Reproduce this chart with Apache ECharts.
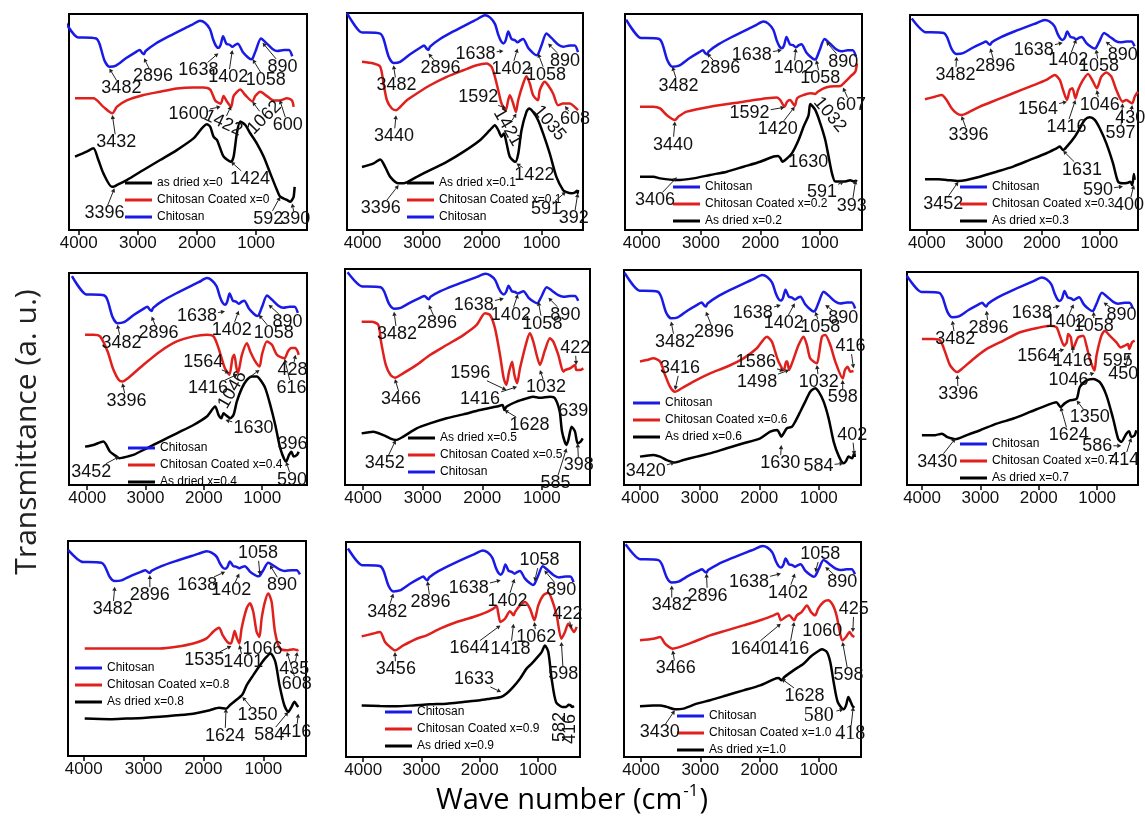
<!DOCTYPE html>
<html>
<head>
<meta charset="utf-8">
<title>FTIR spectra</title>
<script src="https://cdn.jsdelivr.net/npm/echarts@6/dist/echarts.min.js"></script>
<style>
  html, body { margin: 0; padding: 0; background: #fff; }
  #chart { width: 1145px; height: 816px; }
</style>
</head>
<body>
<div id="chart"></div>
<script>
// wave number ticks shown under every panel
const tickValues = [1000, 2000, 3000, 4000];

// chitosan reference spectrum, same in every panel: [wave number, transmittance]
const chitosan = [[4262,100],[4011,91],[3928,91],[3705,90.5],[3649,88],[3565,80],[3482,77],[3370,77.5],[3203,81],[3036,84],[2969,85],[2924,83.5],[2896,83],[2869,84.5],[2702,88],[2479,91.5],[2200,95.5],[2089,97],[1949,99],[1866,98],[1782,95],[1726,90],[1680,87],[1638,86],[1600,87.5],[1559,91.5],[1503,88],[1448,87.5],[1402,86.5],[1350,87.5],[1308,88],[1225,84],[1141,81.5],[1086,80.5],[1058,81],[1002,85],[918,90.5],[834,88.5],[723,85.5],[639,84.5],[528,85],[444,85],[389,82]];

// chitosan coated / as dried spectra, one pair per x
const coated00 = [[4063,61],[3753,61],[3583,57],[3432,54],[3357,57],[3188,60],[2906,62.5],[2623,64],[2341,65.5],[2059,66],[1889,66],[1776,65],[1692,60],[1600,58.5],[1550,62],[1494,59.5],[1422,57],[1381,62],[1268,65],[1183,62.5],[1062,59.5],[1014,62],[929,64],[816,62],[703,60],[600,60],[478,61],[393,60],[365,57]];
const dried00 = [[4063,34],[3866,36.3],[3753,37.8],[3668,32.4],[3583,26.2],[3440,20],[3396,20.2],[3357,20.8],[3188,23.1],[2906,27.8],[2623,32.4],[2341,37],[2059,42.4],[1833,49],[1776,47.8],[1720,43.2],[1663,41.7],[1618,38.6],[1550,34],[1424,31.6],[1380,34],[1325,44.8],[1268,50.2],[1183,48.6],[1099,44.8],[986,40],[873,34],[760,26.2],[647,18.5],[592,15.4],[478,13.9],[421,13.1],[390,14],[365,15.4],[348,20]];

const coated01 = [[4011,77.5],[3816,76.7],[3705,75.2],[3649,67.5],[3593,59.8],[3510,56],[3440,55.2],[3370,56.7],[3259,59.8],[3092,62.9],[2869,66.7],[2590,70.6],[2312,73.6],[2089,75.9],[1921,76.7],[1838,75.2],[1782,70.6],[1726,64.4],[1671,58.3],[1600,55.2],[1560,59.8],[1531,62.1],[1476,58.3],[1430,54.4],[1392,59.8],[1308,67.5],[1253,70.9],[1197,67.5],[1141,62.1],[1060,59.8],[1030,64.4],[946,68.3],[890,66.7],[807,62.9],[723,57.5],[639,58.3],[528,58.3],[444,56.7],[389,55.2]];
const dried01 = [[4011,29],[3816,30.7],[3705,32.5],[3621,29],[3537,24.5],[3396,21.5],[3315,21.5],[3092,24.5],[2869,27.6],[2590,31.4],[2312,36],[2033,41.4],[1866,46],[1782,48.3],[1726,46],[1671,43],[1632,44.5],[1587,40],[1531,33.7],[1440,31.4],[1390,35.3],[1336,46],[1253,54.4],[1208,56],[1141,54.4],[1058,50.6],[974,44.5],[863,35.3],[751,24.5],[639,18.4],[591,17.6],[500,16.9],[444,17.2],[405,18.1],[392,17],[389,18.4]];

const coated02 = [[4028,57.1],[3803,57.1],[3690,56.3],[3578,53.2],[3440,50.9],[3380,52.5],[3240,54.8],[2847,57.1],[2284,59.4],[1890,61],[1722,61.4],[1665,60.2],[1592,57.1],[1550,59.4],[1500,60.2],[1420,57.4],[1380,61],[1272,62.5],[1159,63.3],[1075,63],[1032,64],[934,65.6],[822,66.4],[650,66.7],[597,67.9],[484,71],[400,73.3],[372,77.2]];
const dried02 = [[4028,24.7],[3803,24.7],[3690,23.9],[3406,23.1],[3128,23.9],[2847,25.5],[2565,27],[2284,29.3],[2003,31.6],[1778,34],[1700,34.3],[1660,33.2],[1630,31.6],[1581,32.4],[1469,35.5],[1356,41.7],[1272,47.8],[1187,53.2],[1159,58.3],[1075,55.6],[990,49.4],[906,41.7],[850,34],[793,26.2],[737,22.4],[653,22.4],[591,22.4],[484,23],[428,22.4],[393,22.8],[372,22.4]];

const coated03 = [[4032,60.8],[3858,62],[3742,62.8],[3656,60.5],[3569,56.6],[3482,54.3],[3396,53.5],[3309,54.3],[3077,57.4],[2788,60.5],[2499,63.6],[2209,66.7],[1920,69.8],[1776,72.1],[1689,69.8],[1631,65.1],[1564,60.5],[1515,65.1],[1469,65.9],[1416,61.2],[1371,65.1],[1284,69.8],[1197,72.6],[1110,69],[1046,65.9],[966,71.3],[879,73.2],[792,71.3],[705,65.1],[597,59.7],[532,60.5],[430,58.9],[387,62],[329,64.3]];
const dried03 = [[4032,23.6],[3800,23.6],[3656,23.3],[3452,22.8],[3309,23.3],[3077,24.8],[2788,27.1],[2499,29.5],[2209,32.6],[1920,35.7],[1746,38],[1689,38.8],[1631,37.2],[1544,39.5],[1428,43.4],[1341,47.3],[1255,51.2],[1168,52.4],[1081,51.2],[994,47.3],[879,40.3],[763,31],[676,22.5],[590,21.7],[503,22],[463,22.5],[430,20.9],[400,26],[387,23.3]];

const coated04 = [[4037,70.9],[3894,70.9],[3780,70.1],[3650,63],[3560,55.1],[3460,49.6],[3396,48.8],[3300,50.4],[3036,56.7],[2750,63],[2464,67.7],[2178,70.1],[1949,70.9],[1834,70.1],[1749,64.6],[1640,55.1],[1564,52],[1510,59.8],[1480,61.4],[1440,55.1],[1416,52.8],[1348,61.4],[1262,66.9],[1205,63],[1119,58.3],[1046,55.9],[1005,61.4],[919,67.7],[833,66.1],[747,61.4],[616,59.8],[560,63],[500,64.6],[433,64.6],[393,63],[375,61.4]];
const dried04 = [[4037,18.1],[3894,18.9],[3723,20.5],[3608,15.7],[3494,13.4],[3452,12.6],[3300,13.5],[3208,14.2],[2979,17.3],[2750,20.5],[2464,24.4],[2178,28.3],[1949,32.3],[1806,37],[1749,33.1],[1700,31.5],[1663,33.9],[1630,33.1],[1548,31.5],[1491,33.1],[1434,39.4],[1348,45.7],[1262,49.6],[1176,51.2],[1090,51.2],[1033,49.6],[948,45.7],[862,37.8],[776,28.3],[690,17.3],[590,11],[540,14.2],[500,15.7],[461,13.4],[404,14.2],[375,15.7]];

const coated05 = [[4025,75.6],[3857,75.6],[3745,74.1],[3700,66.4],[3620,55.6],[3540,50.9],[3466,49.7],[3330,51.7],[3102,55.6],[2878,60.2],[2598,64.8],[2318,69.4],[2094,74.1],[1954,79.5],[1870,78.7],[1786,72.5],[1702,60.2],[1640,49.4],[1596,46.3],[1550,52.5],[1500,57.1],[1460,50.9],[1416,47.1],[1367,54],[1255,66.4],[1199,70.2],[1143,66.4],[1087,60.2],[1032,55.6],[947,62.5],[863,67.9],[807,66.4],[723,60.2],[639,52.5],[611,53.2],[527,54],[443,55.6],[422,53.2],[359,53.2],[303,54]];
const dried05 = [[4025,23.9],[3829,24.7],[3661,23.1],[3549,21.6],[3452,20.8],[3326,22.4],[3102,26.2],[2878,28.5],[2598,30.9],[2318,32.7],[2038,34.7],[1758,36.3],[1660,37],[1628,34.7],[1590,36.3],[1423,38.6],[1255,40.1],[1143,40.9],[1031,40.4],[863,40.9],[779,40.1],[700,34],[660,24.7],[585,18.5],[555,20.8],[499,27],[443,24.7],[398,19.3],[348,20.1],[314,21.6]];

const coated06 = [[4004,57.4],[3892,58.1],[3779,58.9],[3667,57.4],[3583,51.2],[3499,45.7],[3416,43.4],[3302,45],[3106,48.1],[2826,51.9],[2545,55],[2265,58.9],[2040,63.6],[1872,69],[1788,66.7],[1732,62],[1676,57.4],[1586,53.5],[1547,57.4],[1530,57.4],[1498,53.5],[1440,57.4],[1339,65.1],[1255,69],[1199,65.1],[1143,58.9],[1032,56.6],[990,62],[946,69],[890,69.8],[806,65.1],[722,57.4],[598,49.6],[560,53.5],[515,55],[470,52.7],[416,53]];
const dried06 = [[4004,13.2],[3779,14],[3667,13.2],[3555,11.6],[3420,10.5],[3274,11.6],[3050,13.2],[2826,14.7],[2545,17.1],[2265,19.4],[1984,21.7],[1816,24.8],[1700,25.6],[1660,24],[1630,22.5],[1590,24],[1535,26.4],[1451,27.1],[1395,29.5],[1311,34.1],[1227,38.8],[1143,43.4],[1060,45],[1002,43.4],[918,38.8],[834,31],[750,20.2],[660,13.2],[584,10.1],[540,11.2],[500,13.2],[440,12.4],[402,15],[395,13]];

const coated07 = [[4002,68.5],[3802,68.5],[3688,67.8],[3603,62.3],[3518,56.1],[3396,53],[3318,54.5],[3119,59.2],[2891,63.9],[2606,67.8],[2321,71.7],[1980,74],[1809,74.8],[1695,74],[1638,70.1],[1564,65.4],[1520,67],[1495,70.9],[1450,69.3],[1416,63.9],[1325,69.3],[1239,70.1],[1182,65.4],[1125,59.2],[1046,53.7],[1011,60.7],[926,70.1],[869,72.4],[784,70.1],[669,67],[595,64.6],[527,65.4],[470,66.2],[450,63.9],[400,67],[356,67.8]];
const dried07 = [[4002,23.4],[3774,23.4],[3660,24.1],[3575,22.6],[3489,21.8],[3430,21.5],[3233,23.4],[3005,25.7],[2720,28.8],[2435,31.2],[2150,34.3],[1866,37.4],[1700,38.9],[1624,36.6],[1560,38.2],[1467,39.7],[1350,40.5],[1296,46],[1182,49.1],[1068,49.8],[954,48.3],[840,42.1],[726,31.2],[641,21.8],[586,20.2],[498,24.1],[452,25.2],[414,22.6],[356,23.4],[328,25.7]];

const coated08 = [[3984,50],[2730,50],[2451,50.8],[2172,52.3],[1949,54.7],[1838,57.8],[1740,59.6],[1680,56.2],[1600,53],[1545,52.3],[1510,55],[1480,58.1],[1440,54.7],[1401,52.3],[1364,59.3],[1280,68.6],[1225,71],[1169,67.1],[1113,57.8],[1066,55.4],[1029,64],[974,71.7],[918,75.6],[862,71.7],[806,57.8],[723,50],[608,49.2],[500,49.7],[435,49.2],[416,49.5]];
const dried08 = [[3984,17.4],[3566,17.1],[3287,17.4],[3009,17.7],[2730,18.2],[2451,18.9],[2172,19.7],[1894,21.3],[1740,22.4],[1624,22],[1560,23.6],[1460,25.9],[1350,28.6],[1280,32.9],[1169,37.6],[1057,42.2],[974,45.3],[880,47.7],[800,43.8],[730,32.9],[650,23.6],[584,20.5],[530,22.8],[480,25.2],[440,23.6],[416,22.8]];

const coated09 = [[4026,56.1],[3826,57.4],[3711,58.1],[3625,53.5],[3540,51.2],[3456,49.6],[3311,51.9],[3082,55],[2910,56.6],[2681,59.7],[2395,62.8],[2109,65.1],[1880,67.4],[1766,69],[1709,70.1],[1680,66.7],[1644,62.8],[1566,64.3],[1480,67.8],[1418,65.9],[1394,67.4],[1308,70.5],[1222,72.1],[1137,69],[1062,63.6],[994,70.5],[908,75.2],[822,76.4],[765,73.6],[679,65.9],[598,55],[536,58.1],[479,62],[422,59.7],[380,58.1],[335,60.5]];
const dried09 = [[4026,24],[3711,23.7],[3426,23.6],[3140,24],[2853,24.5],[2567,24.8],[2281,25.6],[1995,26.4],[1823,27.1],[1633,27.9],[1538,29.5],[1423,32.6],[1309,36.4],[1195,41.1],[1108,43.4],[1023,46],[937,48.8],[880,51.9],[822,48.8],[765,36.4],[690,25.6],[582,23.3],[520,23.3],[470,24.3],[440,24],[416,23.3],[380,23.7]];

const coated10 = [[4018,54.3],[3792,55],[3679,55.8],[3595,52.7],[3530,51.2],[3466,50.4],[3341,51.2],[3116,53.5],[2834,56.6],[2552,58.9],[2271,61.2],[1989,63.6],[1764,65.9],[1690,66.7],[1640,63.6],[1560,65.1],[1500,65.9],[1416,63.6],[1370,65.9],[1290,67.4],[1200,70.5],[1130,67.4],[1060,65.9],[1010,69],[920,72.1],[840,72.9],[760,70.5],[700,65.9],[598,54.3],[540,55.8],[480,58.1],[440,56.6],[400,55.8]];
const dried10 = [[4018,23.6],[3792,24],[3679,24],[3567,23.3],[3430,22.2],[3285,22.5],[3060,24.8],[2834,26.4],[2552,28.7],[2271,31],[1989,33.3],[1764,36.1],[1680,36.7],[1628,35.7],[1580,37.2],[1426,40.3],[1257,43.4],[1144,46.5],[1031,48.8],[947,50.1],[862,48.8],[806,44.2],[749,34.9],[680,25.6],[580,22.2],[540,24],[500,27.9],[460,25.6],[418,23.3],[400,23.7]];

// peak labels: [text, wave number, arrow tip height, label dx, label dy, rotation, serif]
const notes00 = [['3482',3482,74.8,12,20],['2896',2896,79.5,9,18],['1638',1638,81.8,-20,17],['1402',1402,83.3,-4,27],['1058',1058,79,13,21],['890',890,86.7,20,24],
  ['3432',3432,53.2,4,27],['1600',1600,57.1,-32,7],['1422',1422,57.4,-8,17,-25],['1062',1062,59.4,12,16,45],['600',600,60.2,8,25],
  ['3396',3396,19.3,-10,25],['1424',1424,31.6,19,17],['592',592,15.4,-12,22],['390',390,12.3,3,16]];
const notes01 = [['3482',3482,75.9,3,20],['2896',2896,81.3,12,14],['1638',1638,82.5,-28,3],['1402',1402,83.6,-6,20],['1058',1058,81.3,8,21],['890',890,85.9,17,17],
  ['3440',3440,52.9,-2,21],['1592',1592,56,-28,-11],['1421',1421,53.7,-9,14,-60],['1035',1035,59.8,10,23,-50],['608',608,57.1,10,13],
  ['3396',3396,20.7,-18,23],['1422',1422,30.7,18,12],['591',591,17.6,-20,17],['392',392,16.9,-4,25]];
const notes02 = [['3482',3482,75.6,6,19],['2896',2896,81.8,13,15],['1638',1638,83.3,-30,5],['1402',1402,84.1,-2,20],['1058',1058,78.7,4,18],['890',890,87.2,17,20],
  ['3440',3440,50.2,-2,23],['1592',1592,56.8,-35,6],['1420',1420,57.1,-17,22],['1032',1032,61.7,12,18,-50],['607',607,66,8,18],
  ['3406',3406,24.4,-22,23],['1630',1630,33.2,26,4],['591',591,22.4,-22,10],['393',393,23.1,-4,26]];
const notes03 = [['3482',3482,80.6,-1,18],['2896',2896,84.5,5,18],['1638',1638,87.1,-29,7],['1402',1402,88.7,-8,21],['1058',1058,84,3,17],['890',890,87.6,17,13],
  ['3396',3396,53,7,19],['1564',1564,59.7,-29,7],['1416',1416,60.5,-9,27],['1046',1046,65.1,3,15],['597',597,58.9,-2,30],['430',430,58.1,-2,13],
  ['3452',3452,22.5,-15,22],['1631',1631,36.9,19,19],['590',590,20.2,-25,3],['400',400,20.9,-5,20]];
const notes04 = [['3482',3482,75.6,4,18],['2896',2896,79.5,7,17],['1638',1638,81.9,-28,5],['1402',1402,82.2,-7,19],['1058',1058,80.3,15,18],['890',890,85,19,17],
  ['3396',3396,48,4,18],['1564',1564,52.8,-26,-11],['1416',1416,52.3,-30,14],['1046',1046,54.3,-27,20,60],['616',616,59.5,7,29],['428',428,61.4,-3,15],
  ['3452',3452,13.4,-28,15],['1630',1630,30.7,28,8],['590',590,11,6,18],['396',396,14.5,-5,-10]];
const notes05 = [['3482',3482,80.2,3,22],['2896',2896,83.3,8,18],['1638',1638,86.4,-30,7],['1402',1402,88.3,-7,21],['1058',1058,84.9,4,22],['890',890,86.7,17,17],
  ['3466',3466,49.1,6,20],['1596',1596,44,-36,-17],['1416',1416,45.5,-37,12],['1032',1032,53.2,6,17],['422',422,55.6,-1,-17],
  ['3452',3452,20.8,-11,23],['1628',1628,34.7,25,15],['639',639,33,10,-3],['585',585,17,-11,35],['398',398,19.3,1,22]];
const notes06 = [['3482',3482,76,4,20],['2896',2896,80.6,8,20],['1638',1638,83.7,-28,8],['1402',1402,84.5,-11,20],['1058',1058,80.6,5,15],['890',890,83.7,18,13],
  ['3416',3416,44.2,5,-22],['1586',1586,53,-28,-9],['1498',1498,53.5,-32,12],['1032',1032,55.8,2,17],['598',598,48.8,0,17],['416',416,54.3,-3,-22],
  ['3420',3420,10.5,-29,9],['1630',1630,18.6,-1,18],['584',584,10.1,-25,3],['402',402,14,-2,-20]];
const notes07 = [['3482',3482,77.1,3,18],['2896',2896,81.8,2,17],['1638',1638,84.1,-28,7],['1402',1402,84.9,-8,18],['1058',1058,81.3,0,14],['890',890,85.7,18,13],
  ['3396',3396,51.7,1,19],['1564',1564,63.6,-27,6],['1416',1416,65.4,0,15],['1046',1046,52.6,-26,7],['595',595,63.6,-3,11],['450',450,61.5,-6,20],
  ['3430',3430,21.8,-18,23],['1624',1624,36.6,8,28],['1350',1350,39.7,13,17],['586',586,18.4,-24,0],['414',414,22.1,-7,22]];
const notes08 = [['3482',3482,78.7,-2,22],['2896',2896,84.2,0,20],['1638',1638,85.7,-28,13],['1402',1402,84.9,-8,17],['1058',1058,84.2,-2,-22],['890',890,88.8,12,20],
  ['1535',1535,51.2,-27,14],['1401',1401,51.6,4,17],['1066',1066,55.4,3,12],['608',608,48.4,10,32],['435',435,48.4,-3,17],
  ['1624',1624,22,-1,27],['1350',1350,27.5,15,18],['584',584,20.5,-19,23],['416',416,19.7,-2,18]];
const notes09 = [['3482',3482,76,-6,18],['2896',2896,81.7,3,21],['1638',1638,82.2,-32,8],['1402',1402,82.9,-7,22],['1058',1058,81.7,5,-21],['890',890,86.8,17,20],
  ['3456',3456,48.8,1,17],['1644',1644,61.2,-31,23],['1418',1418,62,-3,25],['1062',1062,62.8,2,15],['598',598,53.5,2,32],['422',422,59.7,-4,-15],
  ['1633',1633,30.2,-27,-13],['582',582,23.3,-2,20,90],['416',416,22.8,-2,21,90]];
const notes10 = [['3482',3482,79.8,0,20],['2896',2896,85.3,1,22],['1638',1638,85.3,-32,8],['1402',1402,85.3,-7,19],['1058',1058,86,5,-18],['890',890,88.4,17,15],
  ['3466',3466,49.6,3,18],['1640',1640,62,-30,25],['1416',1416,62.8,-5,27],['1060',1060,64.3,7,12],['598',598,53.5,6,33],['425',425,58.1,1,-23],
  ['3430',3430,21.7,-15,22],['1628',1628,36.4,23,17],['580',580,22.2,-25,6,0,1],['418',418,23.3,-3,27,0,1]];

// sample names and legend order
const sampleX = ['0', '0.1', '0.2', '0.3', '0.4', '0.5', '0.6', '0.7', '0.8', '0.9', '1.0'];
const driedWord = ['as dried', 'As dried', 'As dried', 'As dried', 'As dried', 'As dried', 'As dried', 'As dried', 'As dried', 'As dried', 'As dried'];
const legendOrders = [['d','c','b'],['d','c','b'],['b','c','d'],['b','c','d'],['b','c','d'],['d','c','b'],['b','c','d'],['b','c','d'],['b','c','d'],['b','c','d'],['b','c','d']];
const coatedSets = [coated00, coated01, coated02, coated03, coated04, coated05, coated06, coated07, coated08, coated09, coated10];
const driedSets = [dried00, dried01, dried02, dried03, dried04, dried05, dried06, dried07, dried08, dried09, dried10];
const noteSets = [notes00, notes01, notes02, notes03, notes04, notes05, notes06, notes07, notes08, notes09, notes10];

// layout: frame boxes [left, top, width, height], wave number range, chitosan scale, legend anchor
const gridBoxes = [[69,14,238,216],[347,13,236,217],[625,14,237,216],[910,15,228,215],
  [69,273,238,212],[345,269,245,216],[624,270,237,215],[907,272,231,213],
  [68,541,238,215],[346,542,234,215],[624,542,237,215]];
const xRanges = [[139,4165],[305,4262],[287,4281],[329,4292],[232,4312],[191,4305],[290,4273],[299,4258],[288,4263],[278,4295],[287,4288]];
const blueRanges = [[-1.1,102.2],[0,100],[-2.5,102.7],[-37,102.2],[-2,101.5],[-34,102],[-7.4,101.5],[-15.6,102],[-51.7,106.5],[-11.8,103.5],[-28,101.4]];
const legendAt = [[125,183],[407,183],[673,187],[960,187],[128,448],[408,438],[633,403],[960,444],[75,668],[385,712],[677,716]];

const BLUE = '#1a1ae6';
const RED = '#e0201c';
const BLACK = '#000000';

function noteRenderer(notes) {
  return function (params, api) {
    const n = notes[params.dataIndex];
    const text = n[0], dx = n[3], dy = n[4], rot = n[5] || 0, serif = n[6] || 0;
    const tip = api.coord([n[1], n[2]]);
    const cx = tip[0] + dx, cy = tip[1] + dy;
    const size = serif ? 20 : 18;
    const r = rot * Math.PI / 180;
    const children = [{
      type: 'text', x: cx, y: cy, rotation: r,
      style: {
        text: text,
        font: size + 'px "' + (serif ? 'Liberation Serif' : 'Liberation Sans') + '"',
        fill: '#111', align: 'center', verticalAlign: 'middle'
      }
    }];
    const vx = tip[0] - cx, vy = tip[1] - cy, dist = Math.hypot(vx, vy);
    if (dist > 0) {
      const ux = vx / dist, uy = vy / dist;
      // direction in the label's own frame, to find where the arrow leaves the text box
      const lx = ux * Math.cos(r) - uy * Math.sin(r);
      const ly = ux * Math.sin(r) + uy * Math.cos(r);
      const halfW = text.length * size * 0.28 + 1, halfH = size * 0.38 + 1;
      const edge = Math.min(Math.abs(lx) > 1e-6 ? halfW / Math.abs(lx) : Infinity,
                            Math.abs(ly) > 1e-6 ? halfH / Math.abs(ly) : Infinity);
      if (dist - edge > 5) {
        const sx = cx + ux * edge, sy = cy + uy * edge;
        const hx = tip[0] - ux * 4, hy = tip[1] - uy * 4;
        children.push({ type: 'line', shape: { x1: sx, y1: sy, x2: hx, y2: hy }, style: { stroke: '#222', lineWidth: 1 } });
        children.push({ type: 'polygon', shape: { points: [[tip[0], tip[1]], [hx - uy * 2.2, hy + ux * 2.2], [hx + uy * 2.2, hy - ux * 2.2]] }, style: { fill: '#222' } });
      }
    }
    return { type: 'group', children: children };
  };
}

const chart = echarts.init(document.getElementById('chart'));
const option = {
  animation: false,
  backgroundColor: '#fff',
  grid: [], xAxis: [], yAxis: [], legend: [], series: [],
  graphic: [
    {
      type: 'text', x: 27, y: 432, rotation: Math.PI / 2,
      style: { text: 'Transmittance (a. u.)', font: '30px "Open Sans"', fill: '#222', align: 'center', verticalAlign: 'middle' }
    },
    {
      type: 'text', x: 572, y: 801,
      style: {
        text: '{a|Wave number (cm}{s|-1}{a|)}',
        align: 'center', verticalAlign: 'middle',
        rich: {
          a: { fontSize: 29, fontFamily: 'Open Sans', color: '#222', lineHeight: 36 },
          s: { fontSize: 17, fontFamily: 'Open Sans', color: '#222', verticalAlign: 'top', lineHeight: 36, padding: [0, 1, 15, 1] }
        }
      }
    }
  ]
};

sampleX.forEach(function (x, i) {
  const box = gridBoxes[i];
  const coatedName = 'Chitosan Coated x=' + x;
  const driedName = driedWord[i] + ' x=' + x;
  option.grid.push({
    left: box[0], top: box[1], width: box[2], height: box[3],
    show: true, borderColor: '#000', borderWidth: 2, backgroundColor: 'transparent'
  });
  option.xAxis.push({
    type: 'value', gridIndex: i, inverse: true, min: xRanges[i][0], max: xRanges[i][1],
    splitLine: { show: false },
    axisLine: { show: true, onZero: false, lineStyle: { color: '#000', width: 2 } },
    axisTick: { show: true, length: 5, customValues: tickValues, lineStyle: { color: '#000', width: 1.5 } },
    axisLabel: {
      customValues: tickValues, fontSize: 17, fontFamily: 'Liberation Sans', color: '#111', margin: 5,
      formatter: function (v) { return String(v); }
    }
  });
  option.yAxis.push({ type: 'value', gridIndex: i, min: 0, max: 100, show: false });
  option.yAxis.push({ type: 'value', gridIndex: i, min: blueRanges[i][0], max: blueRanges[i][1], show: false });

  const names = { b: 'Chitosan', c: coatedName, d: driedName };
  option.legend.push({
    orient: 'vertical', left: legendAt[i][0], top: legendAt[i][1] - 7.5, padding: 0,
    itemWidth: 27, itemHeight: 3, itemGap: 2, icon: 'rect', selectedMode: false,
    textStyle: { fontSize: 12, fontFamily: 'Liberation Sans', color: '#000', lineHeight: 15 },
    data: legendOrders[i].map(function (k) { return names[k]; })
  });

  const lineBase = { type: 'line', xAxisIndex: i, showSymbol: false, smooth: 0.25, clip: true };
  option.series.push(Object.assign({}, lineBase, {
    name: 'Chitosan', yAxisIndex: 2 * i + 1, data: chitosan,
    lineStyle: { color: BLUE, width: 2.5 }, itemStyle: { color: BLUE }
  }));
  option.series.push(Object.assign({}, lineBase, {
    name: coatedName, yAxisIndex: 2 * i, data: coatedSets[i],
    lineStyle: { color: RED, width: 2.5 }, itemStyle: { color: RED }
  }));
  option.series.push(Object.assign({}, lineBase, {
    name: driedName, yAxisIndex: 2 * i, data: driedSets[i],
    lineStyle: { color: BLACK, width: 2.5 }, itemStyle: { color: BLACK }
  }));
  option.series.push({
    type: 'custom', xAxisIndex: i, yAxisIndex: 2 * i, clip: false, silent: true, z: 10,
    data: noteSets[i].map(function (n) { return [n[1], n[2]]; }),
    renderItem: noteRenderer(noteSets[i])
  });
});

chart.setOption(option);
window.addEventListener('resize', function () { chart.resize(); });
</script>
</body>
</html>
